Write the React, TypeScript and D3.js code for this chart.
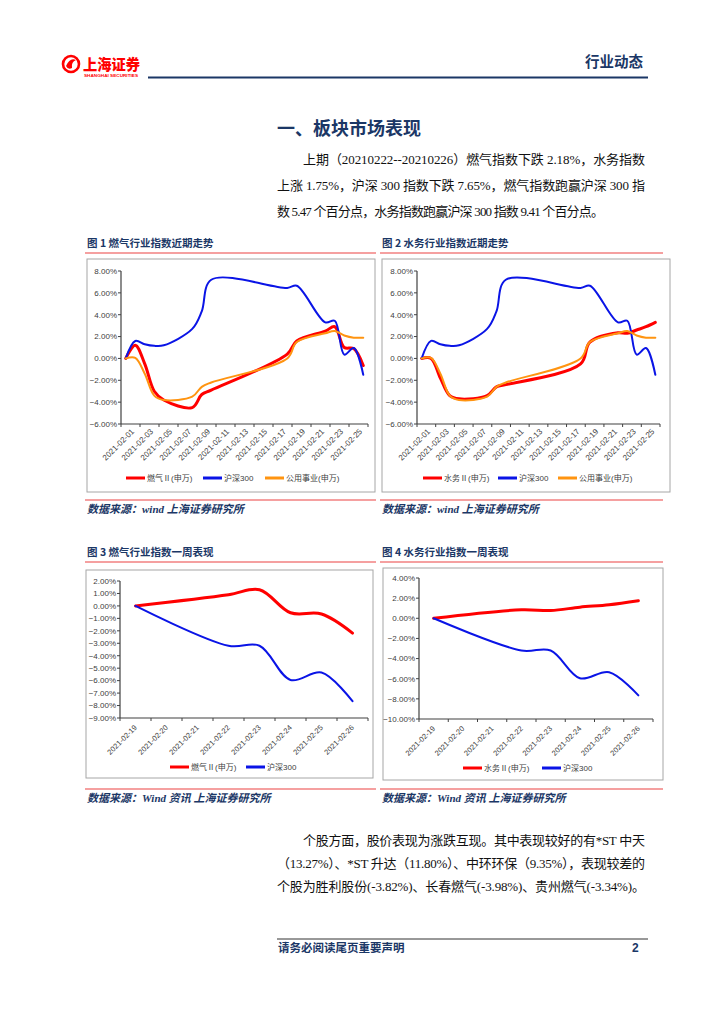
import * as d3 from 'd3';

// ---- data (percent change vs first day) ----
const recentDates = ['2021-02-01', '2021-02-02', '2021-02-03', '2021-02-04', '2021-02-05', '2021-02-08', '2021-02-09', '2021-02-10', '2021-02-18', '2021-02-19', '2021-02-22', '2021-02-23', '2021-02-24', '2021-02-25', '2021-02-26'];
const recentHs300 = [0, 1.6, 1.3, 1.15, 1.2, 2.7, 4.3, 7.2, 6.45, 6.65, 3.3, 3.45, 0.35, 0.95, -1.5];
const recentGas = [0, 1.2, -0.5, -3.0, -3.8, -4.5, -3.3, -2.9, 0.4, 1.6, 2.5, 2.9, 1.0, 0.9, -0.65];
const recentUtility = [0, 0.05, -1.4, -3.4, -3.8, -3.5, -2.6, -2.2, 0.0, 1.5, 2.3, 2.5, 2.1, 1.9, 1.9];
const recentWater = [0, 0.0, -1.8, -3.4, -3.7, -3.4, -2.6, -2.4, -0.5, 1.5, 2.35, 2.3, 2.6, 2.9, 3.3];
const recentTickLabels = ['2021-02-01', '2021-02-03', '2021-02-05', '2021-02-07', '2021-02-09', '2021-02-11', '2021-02-13', '2021-02-15', '2021-02-17', '2021-02-19', '2021-02-21', '2021-02-23', '2021-02-25'];
const recentYTicks = [8, 6, 4, 2, 0, -2, -4, -6];

const weekDates = ['2021-02-19', '2021-02-22', '2021-02-23', '2021-02-24', '2021-02-25', '2021-02-26'];
const weekHs300 = [0, -3.2, -3.2, -5.95, -5.35, -7.65];
const weekGas = [0, 0.9, 1.3, -0.55, -0.65, -2.18];
const weekWater = [0, 0.85, 0.77, 1.1, 1.35, 1.75];
const weekTickLabels = ['2021-02-19', '2021-02-20', '2021-02-21', '2021-02-22', '2021-02-23', '2021-02-24', '2021-02-25', '2021-02-26'];
const weekGasYTicks = [2, 1, 0, -1, -2, -3, -4, -5, -6, -7, -8, -9];
const weekWaterYTicks = [4, 2, 0, -2, -4, -6, -8, -10];

const NAVY = '#1b3766';
const PINK = '#f28080';
const RED = '#ff0000';
const BLUE = '#0a14e6';
const ORANGE = '#ff9410';

const SERIF = "'Liberation Serif', 'Noto Sans CJK SC', serif";
const SANS = "'Liberation Sans', 'Noto Sans CJK SC', sans-serif";
const CJK = "'Noto Sans CJK SC', sans-serif";

const fmtDay = d3.timeFormat('%Y-%m-%d');
const calendar = (from: string, to: string) => {
    const p = d3.timeParse('%Y-%m-%d');
    return d3.timeDay.range(p(from)!, d3.timeDay.offset(p(to)!, 1)).map(fmtDay);
};

interface Series { name: string; color: string; width: number; values: number[] }

interface PanelProps {
    title: string;
    source: string;
    left: number;
    ruleEnd: number;
    titleY: number;
    frame: [number, number, number, number];
    xRange: [number, number];
    yRange: [number, number];
    yDomain: [number, number];
    yTicks: number[];
    days: string[];
    tickLabels: string[];
    tickEvery: number;
    dates: string[];
    series: Series[];
    labelDx: number;
    labelDy: number;
    labelSize: number;
    legendY: number;
    legendX: number[];
    sourceY: number;
}

function Panel(p: PanelProps) {
    const x = d3.scaleBand<string>().domain(p.days).range(p.xRange).padding(0);
    const bw = x.bandwidth();
    const y = d3.scaleLinear().domain(p.yDomain).range(p.yRange);
    const cx = (d: string) => (x(d) ?? 0) + bw / 2;
    const [x0, x1] = p.xRange;
    const yBottom = p.yRange[0];
    const yTop = p.yRange[1];
    const pct = d3.format('.2f');

    return (
        <g>
            <text x={p.left + 2} y={p.titleY} fontFamily={CJK} fontWeight={700} fontSize={10.5} fill={NAVY}>{p.title}</text>
            <line x1={p.left} x2={p.ruleEnd} y1={p.titleY + 6} y2={p.titleY + 6} stroke={PINK} strokeWidth={1.5} />
            <rect x={p.frame[0]} y={p.frame[1]} width={p.frame[2] - p.frame[0]} height={p.frame[3] - p.frame[1]}
                fill="#fff" stroke="#a6a6a6" strokeWidth={1} />

            {/* y axis */}
            <line x1={x0} x2={x0} y1={yTop} y2={yBottom} stroke="#404040" strokeWidth={1.2} />
            {p.yTicks.map(t => (
                <g key={t}>
                    <line x1={x0 - 3} x2={x0} y1={y(t)} y2={y(t)} stroke="#404040" />
                    <text x={x0 - 4} y={y(t)} dy="0.35em" textAnchor="end" fontFamily={SANS} fontSize={8} fill="#404040">
                        {pct(t)}%
                    </text>
                </g>
            ))}

            {/* x axis */}
            <line x1={x0} x2={x1} y1={yBottom} y2={yBottom} stroke="#404040" strokeWidth={1.2} />
            {d3.range(0, p.days.length + 1, p.tickEvery).map(i => (
                <line key={i} x1={x0 + i * bw} x2={x0 + i * bw} y1={yBottom} y2={yBottom + 3} stroke="#404040" />
            ))}
            {p.tickLabels.map(d => (
                <text key={d} transform={`translate(${cx(d) + p.labelDx},${yBottom + p.labelDy}) rotate(-45)`}
                    textAnchor="end" fontFamily={SANS} fontSize={p.labelSize} fill="#404040">{d}</text>
            ))}

            {/* series */}
            {p.series.map(s => {
                const line = d3.line<number>()
                    .x((_, i) => cx(p.dates[i]))
                    .y(v => y(v))
                    .curve(d3.curveCatmullRom.alpha(0.5));
                return <path key={s.name} d={line(s.values) ?? ''} fill="none" stroke={s.color} strokeWidth={s.width}
                    strokeLinejoin="round" strokeLinecap="round" />;
            })}

            {/* legend */}
            {p.series.map((s, i) => (
                <g key={s.name}>
                    <line x1={p.legendX[i]} x2={p.legendX[i] + 19} y1={p.legendY} y2={p.legendY} stroke={s.color} strokeWidth={3} />
                    <text x={p.legendX[i] + 21} y={p.legendY + 3} fontFamily={SANS} fontSize={8} fill="#404040">{s.name}</text>
                </g>
            ))}

            <line x1={p.left} x2={p.ruleEnd} y1={p.sourceY - 13} y2={p.sourceY - 13} stroke={PINK} strokeWidth={1.5} />
            <text x={p.left + 2} y={p.sourceY} fontFamily={SERIF} fontWeight={700} fontStyle="italic" fontSize={11} fill={NAVY}>
                {p.source}
            </text>
        </g>
    );
}

function Para({ lines }: { lines: { text: string; x: number; y: number; end: number }[] }) {
    return (
        <g>
            {lines.map(l => (
                <text key={l.text} x={l.x} y={l.y} fontFamily={SERIF} fontSize={13} fill="#111"
                    textLength={l.end - l.x} lengthAdjust="spacing">{l.text}</text>
            ))}
        </g>
    );
}

export default function App() {
    const recentDays = calendar('2021-02-01', '2021-02-26');
    const weekDays = calendar('2021-02-19', '2021-02-26');

    return (
        <svg width={724} height={1024} viewBox="0 0 724 1024" style={{ position: 'absolute', left: 0, top: 0, background: '#fff' }}>
            <rect width={724} height={1024} fill="#fff" />

            {/* header */}
            <g>
                <circle cx={71} cy={64} r={8} fill="none" stroke={RED} strokeWidth={2.6} />
                <path d="M66,66 Q70,57 76,60 Q71,62 72,68 Q68,70 66,66 Z" fill={RED} />
                <text x={83} y={70} fontFamily={CJK} fontWeight={900} fontSize={15} fill={RED} textLength={57} lengthAdjust="spacingAndGlyphs">上海证券</text>
                <text x={84} y={77} fontFamily={SANS} fontWeight={700} fontSize={4.2} fill={RED} textLength={54} lengthAdjust="spacingAndGlyphs">SHANGHAI SECURITIES</text>
                <text x={585} y={67} fontFamily={CJK} fontWeight={700} fontSize={14.5} fill={NAVY}>行业动态</text>
                <line x1={148} x2={648} y1={77.5} y2={77.5} stroke={NAVY} strokeWidth={2.2} />
            </g>

            <text x={277} y={135} fontFamily={CJK} fontWeight={700} fontSize={18} fill={NAVY}>一、板块市场表现</text>
            <Para lines={[
                { text: '上期（20210222--20210226）燃气指数下跌 2.18%，水务指数', x: 303, y: 164, end: 645 },
                { text: '上涨 1.75%，沪深 300 指数下跌 7.65%，燃气指数跑赢沪深 300 指', x: 277, y: 190, end: 645 },
                { text: '数 5.47 个百分点，水务指数跑赢沪深 300 指数 9.41 个百分点。', x: 277, y: 216, end: 604 },
            ]} />

            <Panel title="图 1 燃气行业指数近期走势" source="数据来源：wind 上海证券研究所"
                left={85} ruleEnd={376} titleY={247} frame={[87, 259, 375, 492]}
                xRange={[121, 368]} yRange={[424, 271]} yDomain={[-6, 8]} yTicks={recentYTicks}
                days={recentDays} tickLabels={recentTickLabels} tickEvery={2} dates={recentDates}
                series={[
                    { name: '燃气Ⅱ(申万)', color: RED, width: 3, values: recentGas },
                    { name: '沪深300', color: BLUE, width: 2, values: recentHs300 },
                    { name: '公用事业(申万)', color: ORANGE, width: 2, values: recentUtility },
                ]}
                labelDx={9} labelDy={8} labelSize={8} legendY={478} legendX={[126, 203, 265]} sourceY={513} />

            <Panel title="图 2 水务行业指数近期走势" source="数据来源：wind 上海证券研究所"
                left={380} ruleEnd={663} titleY={247} frame={[382, 259, 670, 492]}
                xRange={[417, 660]} yRange={[424, 271]} yDomain={[-6, 8]} yTicks={recentYTicks}
                days={recentDays} tickLabels={recentTickLabels} tickEvery={2} dates={recentDates}
                series={[
                    { name: '水务Ⅱ(申万)', color: RED, width: 3, values: recentWater },
                    { name: '沪深300', color: BLUE, width: 2, values: recentHs300 },
                    { name: '公用事业(申万)', color: ORANGE, width: 2, values: recentUtility },
                ]}
                labelDx={9} labelDy={8} labelSize={8} legendY={478} legendX={[423, 498, 558]} sourceY={513} />

            <Panel title="图  3  燃气行业指数一周表现" source="数据来源：Wind 资讯  上海证券研究所"
                left={85} ruleEnd={376} titleY={556} frame={[86, 570, 373, 778]}
                xRange={[120, 368]} yRange={[718, 581]} yDomain={[-9, 2]} yTicks={weekGasYTicks}
                days={weekDays} tickLabels={weekTickLabels} tickEvery={1} dates={weekDates}
                series={[
                    { name: '燃气Ⅱ(申万)', color: RED, width: 3, values: weekGas },
                    { name: '沪深300', color: BLUE, width: 2, values: weekHs300 },
                ]}
                labelDx={2} labelDy={10} labelSize={7.5} legendY={767} legendX={[170, 246]} sourceY={802} />

            <Panel title="图  4  水务行业指数一周表现" source="数据来源：Wind 资讯  上海证券研究所"
                left={380} ruleEnd={663} titleY={556} frame={[383, 568, 663, 780]}
                xRange={[419, 653]} yRange={[719, 578]} yDomain={[-10, 4]} yTicks={weekWaterYTicks}
                days={weekDays} tickLabels={weekTickLabels} tickEvery={1} dates={weekDates}
                series={[
                    { name: '水务Ⅱ(申万)', color: RED, width: 3, values: weekWater },
                    { name: '沪深300', color: BLUE, width: 2, values: weekHs300 },
                ]}
                labelDx={2} labelDy={10} labelSize={7.5} legendY={768} legendX={[463, 542]} sourceY={802} />

            <Para lines={[
                { text: '个股方面，股价表现为涨跌互现。其中表现较好的有*ST 中天', x: 303, y: 845, end: 645 },
                { text: '（13.27%）、*ST 升达（11.80%）、中环环保（9.35%），表现较差的', x: 277, y: 868, end: 645 },
                { text: '个股为胜利股份(-3.82%)、长春燃气(-3.98%)、贵州燃气(-3.34%)。', x: 277, y: 891, end: 645 },
            ]} />

            {/* footer */}
            <line x1={277} x2={648} y1={939} y2={939} stroke="#333" strokeWidth={1} />
            <text x={278} y={952} fontFamily={CJK} fontWeight={700} fontSize={11.5} fill={NAVY}>请务必阅读尾页重要声明</text>
            <text x={632} y={952} fontFamily={SANS} fontWeight={700} fontSize={12} fill={NAVY}>2</text>
        </svg>
    );
}
